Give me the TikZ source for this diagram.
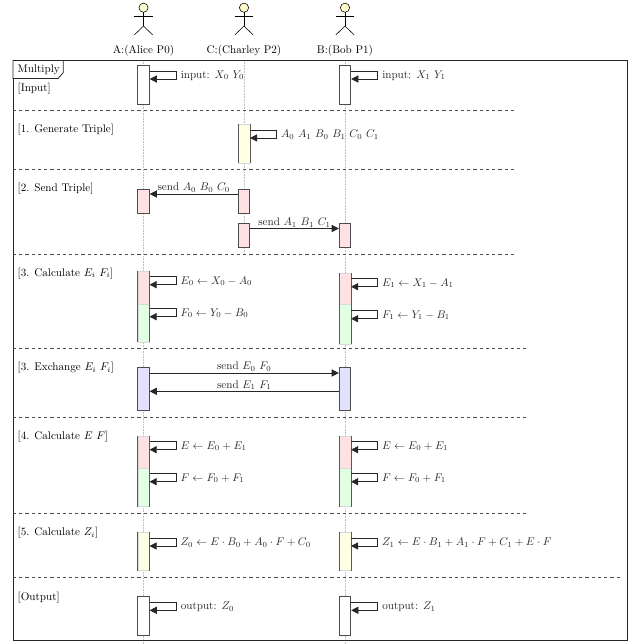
\documentclass[tikz,border=0pt]{standalone}
\usepackage{amsmath}
\usepackage{amssymb}
\usetikzlibrary{
  arrows.meta
}

\definecolor{barpink}{HTML}{FFE0E3}
\definecolor{bargreen}{HTML}{E2FFE4}
\definecolor{barblue}{HTML}{E2E2FF}
\definecolor{baryellow}{HTML}{FFFFE6}
\definecolor{headyellow}{HTML}{FFFBCC}

\tikzset{
  lifeline/.style={densely dotted,gray!50,line width=0.4pt},
  sectionline/.style={black!70,line width=0.6pt,dash pattern=on 2.9pt off 2.7pt},
  msg/.style={line width=0.7pt,black!85,-{Triangle[length=6.5pt,width=6.5pt]}},
  bar/.style={draw=black!70,line width=0.7pt,anchor=north,inner sep=0pt,
    minimum width=10.4pt,minimum height=#1*0.9pt},
  softbar/.style={fill,inner sep=0pt,anchor=north,
    minimum width=10.4pt,minimum height=#1*0.9pt},
  barside/.style={black!65,line width=0.7pt},
  sectionlabel/.style={anchor=west,inner sep=0pt,yshift=-0.9pt},
  calllabel/.style={anchor=west,inner sep=0pt,xshift=3.8pt,yshift=-0.5pt},
  msglabel/.style={inner sep=0pt,above=1pt}
}

\begin{document}
\begin{tikzpicture}[x=0.9pt,y=-0.9pt]
\useasboundingbox (0,0) rectangle (640,644);

%--------------------
% Actors
%--------------------
\foreach \xpos in {143.5,244,345} {
  \begin{scope}[shift={(\xpos,0)}]
    \draw[line width=0.5pt,fill=headyellow] (0,7.7) circle (4.6);
    \draw[line width=0.5pt] (0,12.3) -- (0,26);
    \draw[line width=0.5pt] (-9.2,16.5) -- (9.2,16.5);
    \draw[line width=0.5pt] (-9.2,35) -- (0,26) -- (9.2,35);
  \end{scope}
}
\node (alice) at (143.5,50.5) {A:(Alice P0)};
\node (charley) at (244,50.5) {C:(Charley P2)};
\node (bob) at (345,50.5) {B:(Bob P1)};

% Lifelines
\coordinate (aliceend) at (143.5,644);
\coordinate (charleyend) at (244,253);
\coordinate (bobend) at (345,644);
\draw[lifeline] (143.5,60) -- (aliceend);
\draw[lifeline] (244,60) -- (charleyend);
\draw[lifeline] (345,60) -- (bobend);

%--------------------
% Frame
%--------------------
\draw[line width=0.9pt,black!85] (13,60.5) rectangle (627.3,640);
\draw[line width=0.7pt,black!85,fill=white]
  (13,60.5) -- (63.3,60.5) -- (63.3,72.5) -- (58,78.5) -- (13,78.5) -- cycle;
\node[sectionlabel] (multiply) at (17.5,68.3) {Multiply};

% Separators
\draw[sectionline] (13,110.5) -- (516.7,110.5);
\draw[sectionline] (13,169.5) -- (516.7,169.5);
\draw[sectionline] (13,254) -- (516.7,254);
\draw[sectionline] (13,348.3) -- (527.3,348.3);
\draw[sectionline] (13,417) -- (527.3,417);
\draw[sectionline] (13,513.3) -- (527.3,513.3);
\draw[sectionline] (13,577.7) -- (622.7,577.7);

%--------------------
% Input
%--------------------
\node[sectionlabel] (input) at (17.5,88) {[Input]};
\node[bar=38,fill=white] (ain) at (143.5,65.5) {};
\node[bar=38,fill=white] (bin) at (345,65.5) {};
\draw[msg] (ain.north east) ++(0,5.5) -- ++(26.5,0)
  -- ++(0,8) node[midway,calllabel] {input: $X_0$ $Y_0$} -- ++(-26.5,0);
\draw[msg] (bin.north east) ++(0,5.5) -- ++(26.5,0)
  -- ++(0,8) node[midway,calllabel] {input: $X_1$ $Y_1$} -- ++(-26.5,0);

%--------------------
% 1. Generate Triple
%--------------------
\node[sectionlabel] (generate) at (17.5,128.5) {[1. Generate Triple]};
\node[softbar=39,fill=baryellow,draw=black!15] (cgen) at (244,124) {};
\draw[barside] (cgen.north west) -- (cgen.south west);
\draw[barside] (cgen.north east) -- (cgen.south east);
\draw[msg] (cgen.north east) ++(0,6) -- ++(26.5,0)
  -- ++(0,8) node[midway,calllabel] {$A_0$ $A_1$ $B_0$ $B_1$ $C_0$ $C_1$} -- ++(-26.5,0);

%--------------------
% 2. Send Triple
%--------------------
\node[sectionlabel] (sendtriple) at (17.5,187.5) {[2. Send Triple]};
\node[bar=24.5,fill=barpink] (asend) at (143.5,188.5) {};
\node[bar=24.5,fill=barpink] (csenda) at (244,188.5) {};
\node[bar=24.5,fill=barpink] (csendb) at (244,222.5) {};
\node[bar=24.5,fill=barpink] (bsend) at (345,222.5) {};
\draw[msg] ([yshift=-5.5*0.9pt]csenda.north west) -- ([yshift=-5.5*0.9pt]asend.north east)
  node[midway,msglabel] {send $A_0$ $B_0$ $C_0$};
\draw[msg] ([yshift=-6*0.9pt]csendb.north east) -- ([yshift=-6*0.9pt]bsend.north west)
  node[midway,msglabel] {send $A_1$ $B_1$ $C_1$};

%--------------------
% 3. Calculate Ei Fi
%--------------------
\node[sectionlabel] (calcei) at (17.5,272.5) {[3. Calculate $E_i$ $F_i$]};
\node[softbar=32.5,fill=barpink,draw=black!15] (acalce) at (143.5,271) {};
\node[softbar=38,fill=bargreen,draw=black!15] (acalcf) at (143.5,303.5) {};
\node[softbar=31.5,fill=barpink,draw=black!15] (bcalce) at (345,272.7) {};
\node[softbar=39.5,fill=bargreen,draw=black!15] (bcalcf) at (345,304.2) {};
\draw[barside] (acalce.north west) -- (acalcf.south west);
\draw[barside] (acalce.north east) -- (acalcf.south east);
\draw[barside] (bcalce.north west) -- (bcalcf.south west);
\draw[barside] (bcalce.north east) -- (bcalcf.south east);
\draw[msg] (acalce.north east) ++(0,5.7) -- ++(26.5,0)
  -- ++(0,8) node[midway,calllabel] {$E_0 \leftarrow X_0 - A_0$} -- ++(-26.5,0);
\draw[msg] (acalcf.north east) ++(0,5.2) -- ++(26.5,0)
  -- ++(0,8) node[midway,calllabel] {$F_0 \leftarrow Y_0 - B_0$} -- ++(-26.5,0);
\draw[msg] (bcalce.north east) ++(0,6) -- ++(26.5,0)
  -- ++(0,8) node[midway,calllabel] {$E_1 \leftarrow X_1 - A_1$} -- ++(-26.5,0);
\draw[msg] (bcalcf.north east) ++(0,6.5) -- ++(26.5,0)
  -- ++(0,8) node[midway,calllabel] {$F_1 \leftarrow Y_1 - B_1$} -- ++(-26.5,0);

%--------------------
% 3. Exchange Ei Fi
%--------------------
\node[sectionlabel] (exchange) at (17.5,366.7) {[3. Exchange $E_i$ $F_i$]};
\node[bar=43,fill=barblue] (aexch) at (143.5,367) {};
\node[bar=43,fill=barblue] (bexch) at (345,367) {};
\draw[msg] ([yshift=-6*0.9pt]aexch.north east) -- ([yshift=-6*0.9pt]bexch.north west)
  node[midway,msglabel] {send $E_0$ $F_0$};
\draw[msg] ([yshift=-24.3*0.9pt]bexch.north west) -- ([yshift=-24.3*0.9pt]aexch.north east)
  node[midway,msglabel] {send $E_1$ $F_1$};

%--------------------
% 4. Calculate E F
%--------------------
\node[sectionlabel] (calce) at (17.5,435.5) {[4. Calculate $E$ $F$]};
\node[softbar=32.3,fill=barpink,draw=black!15] (asume) at (143.5,435.7) {};
\node[softbar=38.3,fill=bargreen,draw=black!15] (asumf) at (143.5,468) {};
\node[softbar=32.3,fill=barpink,draw=black!15] (bsume) at (345,435.7) {};
\node[softbar=38.3,fill=bargreen,draw=black!15] (bsumf) at (345,468) {};
\draw[barside] (asume.north west) -- (asumf.south west);
\draw[barside] (asume.north east) -- (asumf.south east);
\draw[barside] (bsume.north west) -- (bsumf.south west);
\draw[barside] (bsume.north east) -- (bsumf.south east);
\draw[msg] (asume.north east) ++(0,6) -- ++(26.5,0)
  -- ++(0,8) node[midway,calllabel] {$E \leftarrow E_0 + E_1$} -- ++(-26.5,0);
\draw[msg] (asumf.north east) ++(0,5.7) -- ++(26.5,0)
  -- ++(0,8) node[midway,calllabel] {$F \leftarrow F_0 + F_1$} -- ++(-26.5,0);
\draw[msg] (bsume.north east) ++(0,6) -- ++(26.5,0)
  -- ++(0,8) node[midway,calllabel] {$E \leftarrow E_0 + E_1$} -- ++(-26.5,0);
\draw[msg] (bsumf.north east) ++(0,5.7) -- ++(26.5,0)
  -- ++(0,8) node[midway,calllabel] {$F \leftarrow F_0 + F_1$} -- ++(-26.5,0);

%--------------------
% 5. Calculate Zi
%--------------------
\node[sectionlabel] (calcz) at (17.5,532) {[5. Calculate $Z_i$]};
\node[softbar=38,fill=baryellow,draw=black!15] (acalcz) at (143.5,532.3) {};
\node[softbar=38,fill=baryellow,draw=black!15] (bcalcz) at (345,532.3) {};
\draw[barside] (acalcz.north west) -- (acalcz.south west);
\draw[barside] (acalcz.north east) -- (acalcz.south east);
\draw[barside] (bcalcz.north west) -- (bcalcz.south west);
\draw[barside] (bcalcz.north east) -- (bcalcz.south east);
\draw[msg] (acalcz.north east) ++(0,5.7) -- ++(26.5,0)
  -- ++(0,8) node[midway,calllabel] {$Z_0 \leftarrow E \cdot B_0 + A_0 \cdot F + C_0$} -- ++(-26.5,0);
\draw[msg] (bcalcz.north east) ++(0,5.7) -- ++(26.5,0)
  -- ++(0,8) node[midway,calllabel] {$Z_1 \leftarrow E \cdot B_1 + A_1 \cdot F + C_1 + E \cdot F$} -- ++(-26.5,0);

%--------------------
% Output
%--------------------
\node[sectionlabel] (output) at (17.5,596.3) {[Output]};
\node[bar=38.7,fill=white] (aout) at (143.5,596.3) {};
\node[bar=38.7,fill=white] (bout) at (345,596.3) {};
\draw[msg] (aout.north east) ++(0,6) -- ++(26.5,0)
  -- ++(0,8) node[midway,calllabel] {output: $Z_0$} -- ++(-26.5,0);
\draw[msg] (bout.north east) ++(0,6) -- ++(26.5,0)
  -- ++(0,8) node[midway,calllabel] {output: $Z_1$} -- ++(-26.5,0);

\end{tikzpicture}
\end{document}
